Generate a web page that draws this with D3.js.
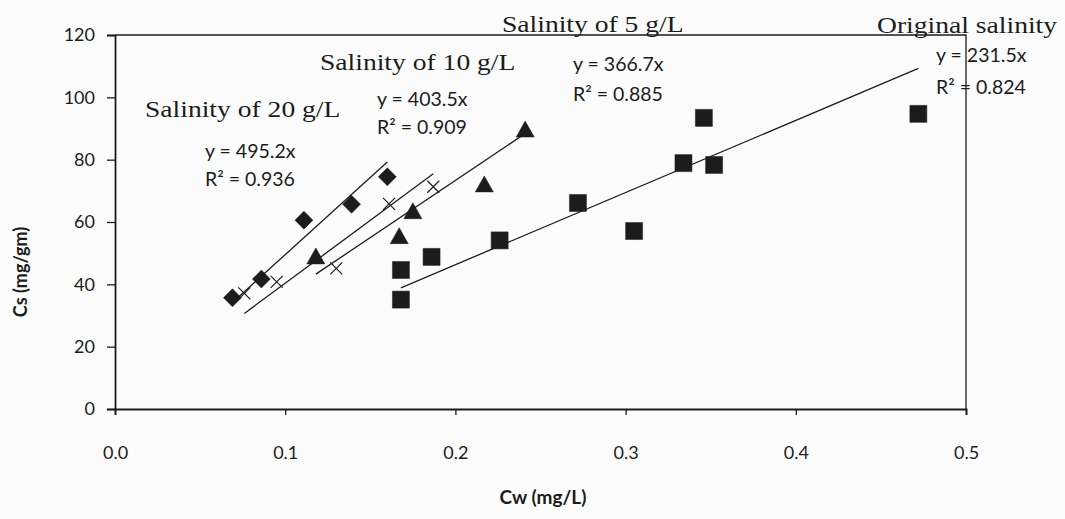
<!DOCTYPE html>
<html>
<head>
<meta charset="utf-8">
<script src="https://cdn.jsdelivr.net/npm/d3@7"></script>
<style>
  body { margin: 0; background: #fff; }
  svg { display: block; }
</style>
</head>
<body>
<svg id="chart" width="1065" height="519"></svg>
<script>
// Adsorption data: Cw (mg/L) against Cs (mg/gm) at four salinities
const seriesNames = ["Salinity of 20 g/L", "Salinity of 10 g/L", "Salinity of 5 g/L", "Original salinity"];
const slopes = [495.2, 403.5, 366.7, 231.5];
const rSquared = [0.936, 0.909, 0.885, 0.824];

const cw20 = [0.069, 0.086, 0.111, 0.139, 0.160];
const cs20 = [35.7, 41.7, 60.6, 65.7, 74.5];

const cw10 = [0.076, 0.095, 0.130, 0.161, 0.187];
const cs10 = [37.1, 40.8, 45.1, 65.8, 71.3];

const cw5 = [0.118, 0.167, 0.175, 0.217, 0.241];
const cs5 = [48.8, 55.3, 63.3, 71.9, 89.5];

const cwOrig = [0.168, 0.168, 0.186, 0.226, 0.272, 0.305, 0.334, 0.352, 0.346, 0.472];
const csOrig = [35.1, 44.6, 48.8, 54.1, 66.1, 57.1, 78.9, 78.3, 93.4, 94.7];

const xTicks = [0, 0.1, 0.2, 0.3, 0.4, 0.5];
const yTicks = [0, 20, 40, 60, 80, 100, 120];

const svg = d3.select("#chart");
const x = d3.scaleLinear().domain([0, 0.5]).range([115, 966]);
const y = d3.scaleLinear().domain([0, 120]).range([409, 35]);

const sans = "Lato, 'Open Sans', sans-serif";
const serif = "'Liberation Serif', 'DejaVu Serif', serif";
const ink = "#1c1c1c";

svg.append("rect").attr("width", 1065).attr("height", 519).attr("fill", "#fbfbfb");

// plot frame (top and right edges)
svg.append("path")
  .attr("d", `M${x(0)},${y(120)}H${x(0.5)}V${y(0)}`)
  .attr("fill", "none").attr("stroke", ink).attr("stroke-width", 1.3);

// axes
const yAxis = svg.append("g")
  .attr("transform", `translate(${x(0)},0)`)
  .call(d3.axisLeft(y).tickValues(yTicks).tickSize(8).tickPadding(12).tickFormat(d3.format("d")));
const xAxis = svg.append("g")
  .attr("transform", `translate(0,${y(0)})`)
  .call(d3.axisBottom(x).tickValues(xTicks).tickSize(6).tickPadding(31).tickFormat(d3.format(".1f")));

[xAxis, yAxis].forEach(g => {
  g.select(".domain").attr("stroke", ink).attr("stroke-width", 1.8);
  g.selectAll(".tick line").attr("stroke", ink).attr("stroke-width", 1.3);
  g.selectAll(".tick text").attr("fill", ink).style("font-family", sans).style("font-size", "18px");
});

// axis titles
svg.append("text")
  .attr("x", 543).attr("y", 504)
  .attr("text-anchor", "middle")
  .style("font-family", sans).style("font-size", "19px").style("font-weight", "bold")
  .attr("fill", ink)
  .text("Cw (mg/L)");
svg.append("text")
  .attr("transform", "translate(27,272) rotate(-90)")
  .attr("text-anchor", "middle")
  .style("font-family", sans).style("font-size", "18px").style("font-weight", "bold")
  .attr("fill", ink)
  .text("Cs (mg/gm)");

// series definitions
const series = [
  { cw: cw20, cs: cs20, marker: "diamond" },
  { cw: cw10, cs: cs10, marker: "cross" },
  { cw: cw5, cs: cs5, marker: "triangle" },
  { cw: cwOrig, cs: csOrig, marker: "square" }
];

function markerPath(type) {
  switch (type) {
    case "diamond": return "M0,-9L9,0L0,9L-9,0Z";
    case "square": return "M-8.5,-8.5H8.5V8.5H-8.5Z";
    case "triangle": return "M0,-9L9,7L-9,7Z";
    case "cross": return "M-6,-6L6,6M-6,6L6,-6";
  }
}

// trend lines through the origin, spanning each series' Cw range
series.forEach((s, i) => {
  const [lo, hi] = d3.extent(s.cw);
  svg.append("line")
    .attr("x1", x(lo)).attr("y1", y(slopes[i] * lo))
    .attr("x2", x(hi)).attr("y2", y(slopes[i] * hi))
    .attr("stroke", ink).attr("stroke-width", 1.3);
});

// markers
series.forEach(s => {
  svg.append("g").selectAll("path")
    .data(s.cw.map((v, j) => [v, s.cs[j]]))
    .join("path")
    .attr("transform", d => `translate(${x(d[0])},${y(d[1])})`)
    .attr("d", markerPath(s.marker))
    .attr("fill", s.marker === "cross" ? "none" : ink)
    .attr("stroke", ink)
    .attr("stroke-width", s.marker === "cross" ? 1.2 : 0.5);
});

// series titles (serif, set slightly wide)
const titlePos = [[145, 117], [320, 70], [502, 32], [877, 33]];
seriesNames.forEach((name, i) => {
  svg.append("text")
    .attr("transform", `translate(${titlePos[i][0]},${titlePos[i][1]}) scale(1.2,1)`)
    .style("font-family", serif).style("font-size", "23px")
    .attr("fill", ink)
    .text(name);
});

// regression equations
const eqPos = [[205, 158, 186], [377, 106, 134], [573, 71, 101], [936, 62, 94]];
slopes.forEach((m, i) => {
  const g = svg.append("text")
    .style("font-family", sans).style("font-size", "19.5px")
    .attr("fill", ink);
  g.append("tspan").attr("x", eqPos[i][0]).attr("y", eqPos[i][1]).text(`y = ${m}x`);
  g.append("tspan").attr("x", eqPos[i][0]).attr("y", eqPos[i][2]).text(`R² = ${rSquared[i].toFixed(3)}`);
});
</script>
</body>
</html>
